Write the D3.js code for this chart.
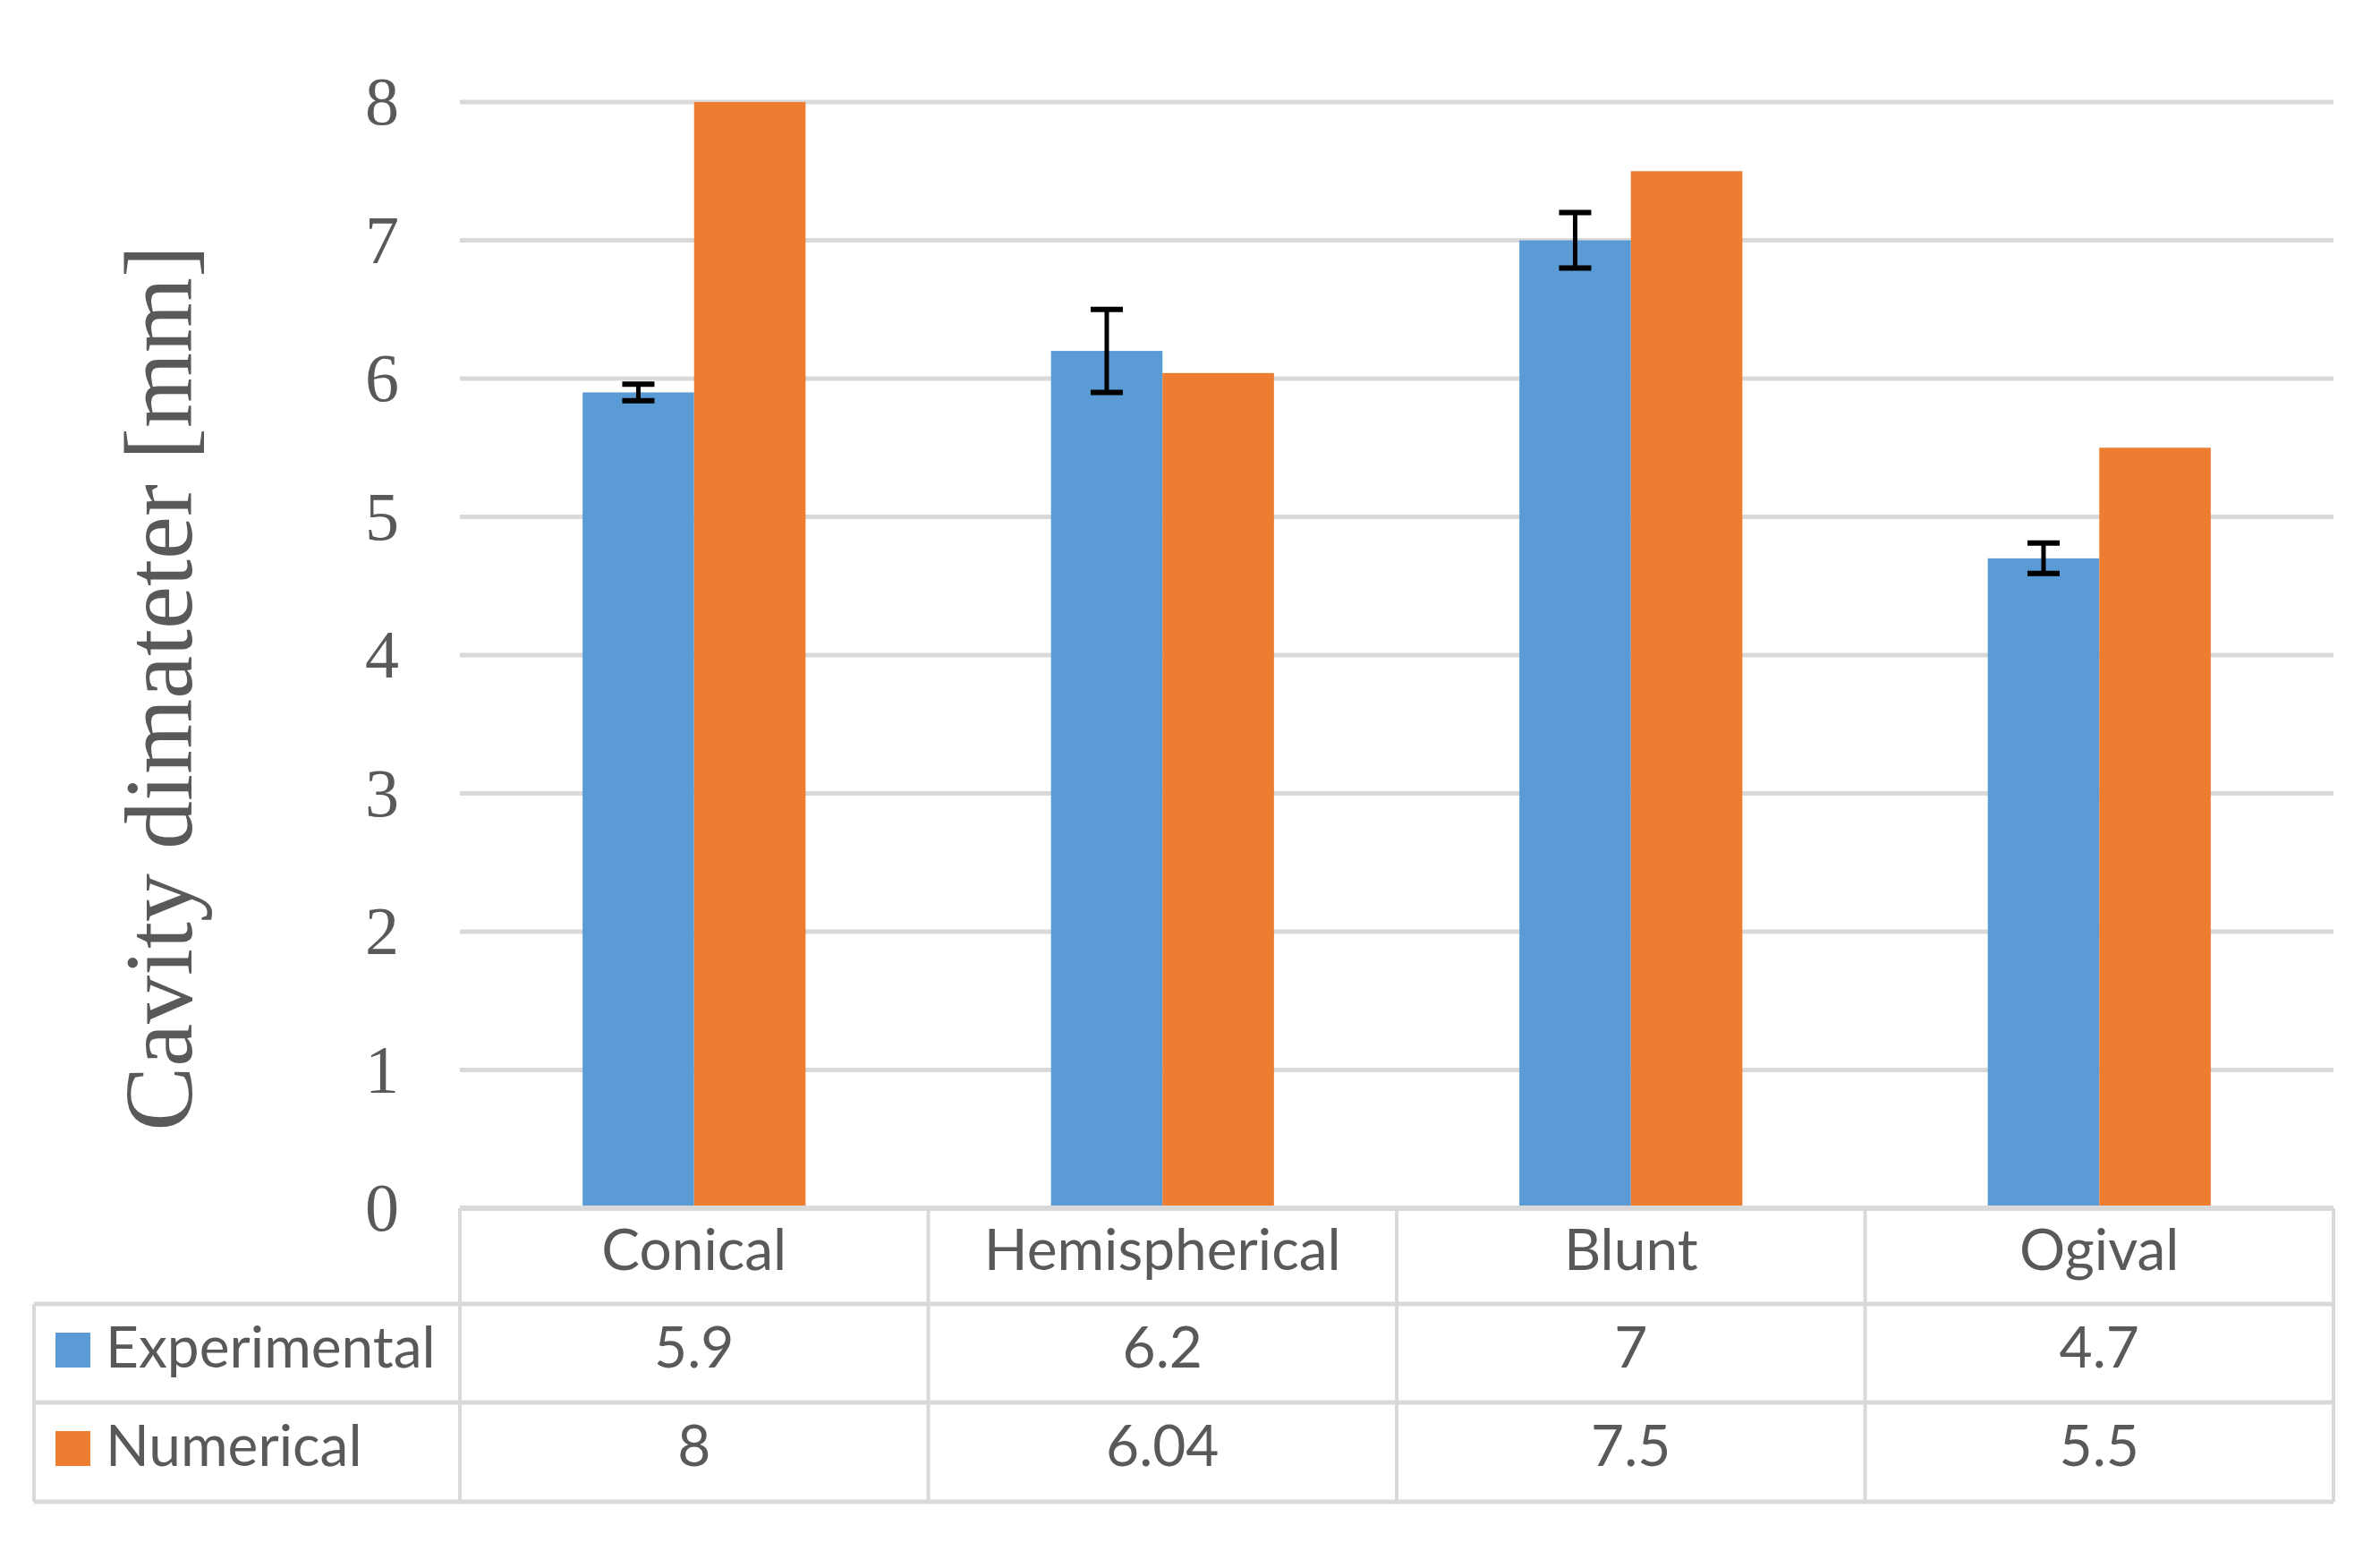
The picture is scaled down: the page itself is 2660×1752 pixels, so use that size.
<!DOCTYPE html>
<html>
<head>
<script src="https://d3js.org/d3.v7.min.js"></script>
<style>
  body { margin: 0; background: #fff; }
</style>
</head>
<body>
<div id="chart"></div>
<script>
// data
var categories = ["Conical", "Hemispherical", "Blunt", "Ogival"];
var seriesNames = ["Experimental", "Numerical"];
var experimental = [5.9, 6.2, 7, 4.7];
var numerical = [8, 6.04, 7.5, 5.5];
var expError = [0.06, 0.3, 0.2, 0.11];
var tableExp = ["5.9", "6.2", "7", "4.7"];
var tableNum = ["8", "6.04", "7.5", "5.5"];
var yTicks = [0, 1, 2, 3, 4, 5, 6, 7, 8];

var colors = {Experimental: "#5B9BD5", Numerical: "#ED7D31"};
var W = 2660, H = 1752;
var plotLeft = 514, plotRight = 2608, plotTop = 114, plotBottom = 1350;
var rowLines = [1350, 1457, 1567, 1678];
var tableLeft = 38;
var textColor = "#595959", lineColor = "#d9d9d9";

var svg = d3.select("#chart").append("svg")
  .attr("width", W).attr("height", H);

var x = d3.scaleBand().domain(categories).range([plotLeft, plotRight])
  .paddingInner(0.524).paddingOuter(0.262);
var xCol = d3.scaleBand().domain(categories).range([plotLeft, plotRight]);
var x1 = d3.scaleBand().domain(seriesNames).range([0, x.bandwidth()]);
var y = d3.scaleLinear().domain([0, 8]).range([plotBottom, plotTop]);

// gridlines
svg.append("g").selectAll("line").data(yTicks.filter(function(d) { return d > 0; }))
  .enter().append("line")
  .attr("x1", plotLeft).attr("x2", plotRight)
  .attr("y1", function(d) { return y(d); }).attr("y2", function(d) { return y(d); })
  .attr("stroke", lineColor).attr("stroke-width", 5);

// y tick labels
svg.append("g").selectAll("text").data(yTicks).enter().append("text")
  .attr("x", 446).attr("y", function(d) { return y(d); })
  .attr("dy", "0.33em")
  .attr("text-anchor", "end")
  .style("font-family", "'Liberation Serif', 'Times New Roman', serif")
  .style("font-size", "76px")
  .attr("fill", textColor)
  .text(function(d) { return d; });

// y axis title
svg.append("text")
  .attr("transform", "translate(214,769) rotate(-90)")
  .attr("text-anchor", "middle")
  .style("font-family", "'Liberation Serif', 'Times New Roman', serif")
  .style("font-size", "108px")
  .attr("fill", textColor)
  .text("Cavity dimateter [mm]");

// bars
var rows = categories.map(function(c, i) {
  return {cat: c, values: [
    {name: "Experimental", value: experimental[i]},
    {name: "Numerical", value: numerical[i]}
  ]};
});
var groups = svg.append("g").selectAll("g").data(rows).enter().append("g")
  .attr("transform", function(d) { return "translate(" + x(d.cat) + ",0)"; });
groups.selectAll("rect").data(function(d) { return d.values; }).enter().append("rect")
  .attr("x", function(d) { return x1(d.name); })
  .attr("width", x1.bandwidth())
  .attr("y", function(d) { return y(d.value); })
  .attr("height", function(d) { return y(0) - y(d.value); })
  .attr("fill", function(d) { return colors[d.name]; });

// error bars on the experimental series
var capW = 36;
var err = svg.append("g").selectAll("g").data(categories).enter().append("g")
  .attr("transform", function(d) { return "translate(" + (x(d) + x1("Experimental") + x1.bandwidth() / 2) + ",0)"; });
err.append("line")
  .attr("y1", function(d, i) { return y(experimental[i] + expError[i]); })
  .attr("y2", function(d, i) { return y(experimental[i] - expError[i]); })
  .attr("stroke", "#000").attr("stroke-width", 5);
err.append("line").attr("x1", -capW / 2).attr("x2", capW / 2)
  .attr("y1", function(d, i) { return y(experimental[i] + expError[i]); })
  .attr("y2", function(d, i) { return y(experimental[i] + expError[i]); })
  .attr("stroke", "#000").attr("stroke-width", 6);
err.append("line").attr("x1", -capW / 2).attr("x2", capW / 2)
  .attr("y1", function(d, i) { return y(experimental[i] - expError[i]); })
  .attr("y2", function(d, i) { return y(experimental[i] - expError[i]); })
  .attr("stroke", "#000").attr("stroke-width", 6);

// data table
var table = svg.append("g");
// horizontal lines
table.append("line").attr("x1", plotLeft).attr("x2", plotRight)
  .attr("y1", rowLines[0]).attr("y2", rowLines[0])
  .attr("stroke", lineColor).attr("stroke-width", 6);
table.selectAll("line.h").data(rowLines.slice(1)).enter().append("line")
  .attr("class", "h")
  .attr("x1", tableLeft).attr("x2", plotRight)
  .attr("y1", function(d) { return d; }).attr("y2", function(d) { return d; })
  .attr("stroke", lineColor).attr("stroke-width", 5);
// vertical lines
var colEdges = categories.map(function(c) { return xCol(c); }).concat([plotRight]);
table.selectAll("line.v").data(colEdges).enter().append("line")
  .attr("class", "v")
  .attr("x1", function(d) { return d; }).attr("x2", function(d) { return d; })
  .attr("y1", rowLines[0]).attr("y2", rowLines[3])
  .attr("stroke", lineColor).attr("stroke-width", 4);
table.append("line")
  .attr("x1", tableLeft).attr("x2", tableLeft)
  .attr("y1", rowLines[1]).attr("y2", rowLines[3])
  .attr("stroke", lineColor).attr("stroke-width", 4);

var tableFont = "Lato, 'Open Sans', sans-serif";
var baselines = [1419, 1528, 1638];

table.selectAll("text.cat").data(categories).enter().append("text")
  .attr("class", "cat")
  .attr("x", function(d) { return xCol(d) + xCol.bandwidth() / 2; })
  .attr("y", baselines[0])
  .attr("text-anchor", "middle")
  .style("font-family", tableFont).style("font-size", "64px")
  .attr("fill", textColor)
  .text(function(d) { return d; });

[tableExp, tableNum].forEach(function(vals, r) {
  table.selectAll("text.v" + r).data(vals).enter().append("text")
    .attr("class", "v" + r)
    .attr("x", function(d, i) { return xCol(categories[i]) + xCol.bandwidth() / 2; })
    .attr("y", baselines[r + 1])
    .attr("text-anchor", "middle")
    .style("font-family", tableFont).style("font-size", "64px")
    .attr("fill", textColor)
    .text(function(d) { return d; });
});

// legend keys in the table
seriesNames.forEach(function(name, r) {
  table.append("rect")
    .attr("x", 62).attr("y", baselines[r + 1] - 39)
    .attr("width", 39).attr("height", 39)
    .attr("fill", colors[name]);
  table.append("text")
    .attr("x", 118).attr("y", baselines[r + 1])
    .style("font-family", tableFont).style("font-size", "64px")
    .attr("fill", textColor)
    .text(name);
});
</script>
</body>
</html>
